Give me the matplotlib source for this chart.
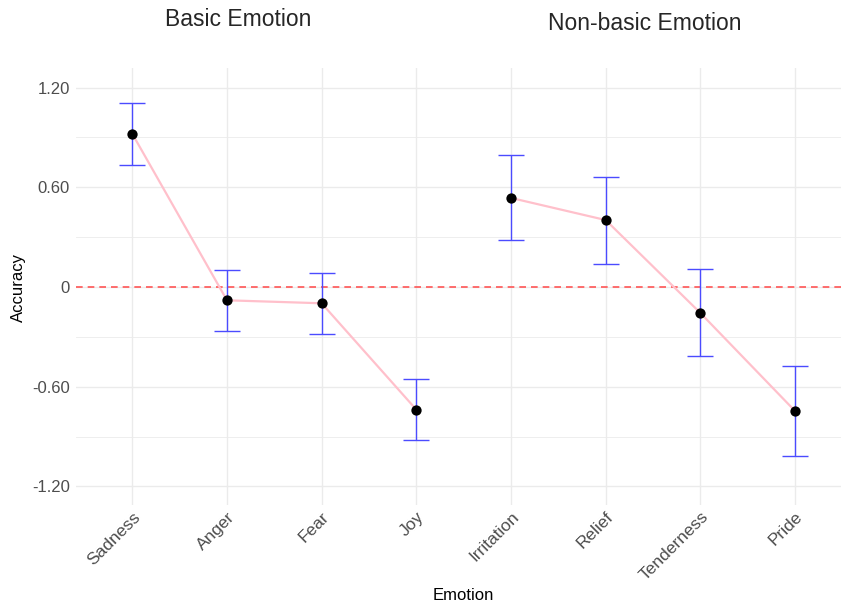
import matplotlib
matplotlib.use("Agg")
import matplotlib.pyplot as plt
import numpy as np

plt.rcParams['font.family'] = ['Liberation Sans', 'DejaVu Sans']

basic_emotions = ["Sadness", "Anger", "Fear", "Joy"]
nonbasic_emotions = ["Irritation", "Relief", "Tenderness", "Pride"]
basic_accuracy = [0.922, -0.080, -0.098, -0.738]
basic_lower = [0.734, -0.265, -0.283, -0.921]
basic_upper = [1.107, 0.102, 0.084, -0.554]
nonbasic_accuracy = [0.536, 0.403, -0.156, -0.746]
nonbasic_lower = [0.283, 0.138, -0.415, -1.015]
nonbasic_upper = [0.794, 0.662, 0.108, -0.475]
y_ticks = [1.20, 0.60, 0, -0.60, -1.20]
y_tick_labels = ["1.20", "0.60", "0", "-0.60", "-1.20"]

fig = plt.figure(figsize=(8.41, 6.06), dpi=100)
W, H = 841, 606
ax = fig.add_axes([75.5 / W, (H - 505) / H, (W - 75.5) / W, 437 / H])

categories = basic_emotions + nonbasic_emotions
xpos = np.arange(1, len(categories) + 1)
xb = xpos[:4]
xn = xpos[4:]

grid_c = "#EBEBEB"
for y in y_ticks:
    ax.axhline(y, color=grid_c, lw=1.0, zorder=0)
for y in [0.9, 0.3, -0.3, -0.9]:
    ax.axhline(y, color=grid_c, lw=0.6, zorder=0)
for x in xpos:
    ax.axvline(x, color=grid_c, lw=1.0, zorder=0)

ax.axhline(0, color="#FF5555", lw=1.2, ls=(0, (4, 3)), zorder=1)

for xs, acc, lo, hi in [(xb, basic_accuracy, basic_lower, basic_upper),
                        (xn, nonbasic_accuracy, nonbasic_lower, nonbasic_upper)]:
    acc = np.array(acc); lo = np.array(lo); hi = np.array(hi)
    ax.plot(xs, acc, color="#FFC0CB", lw=1.6, zorder=2)
    ax.errorbar(xs, acc, yerr=[acc - lo, hi - acc], fmt="none",
                ecolor="#4B4BFF", elinewidth=1.0, capsize=9.5, capthick=1.0, zorder=3)
    ax.scatter(xs, acc, s=55, color="black", zorder=4, linewidths=0)

x_right = 1 + (W - 132) / 94.71
ax.set_xlim(0.4, x_right)
ax.set_ylim(-1.312, 1.318)
ax.set_xticks(xpos)
ax.set_xticklabels(categories, rotation=45, ha="right", rotation_mode="anchor",
                   fontsize=12.5, color="#4D4D4D")
ax.set_yticks(y_ticks)
ax.set_yticklabels(y_tick_labels, fontsize=12, color="#4D4D4D")
ax.tick_params(axis="both", length=0, pad=4)
ax.tick_params(axis="x", pad=3)
for s in ax.spines.values():
    s.set_visible(False)

fig.text(463 / W, 1 - 596 / H, "Emotion", ha="center", va="center", fontsize=12)
fig.text(18 / W, 1 - 287 / H, "Accuracy", ha="center", va="center", fontsize=12, rotation=90)

fig.text(238 / W, 1 - 20 / H, "Basic Emotion", ha="center", va="center", fontsize=16.5, color="#262626")
fig.text(645 / W, 1 - 23 / H, "Non-basic Emotion", ha="center", va="center", fontsize=16.5, color="#262626")

fig.savefig("out.png", dpi=100)
